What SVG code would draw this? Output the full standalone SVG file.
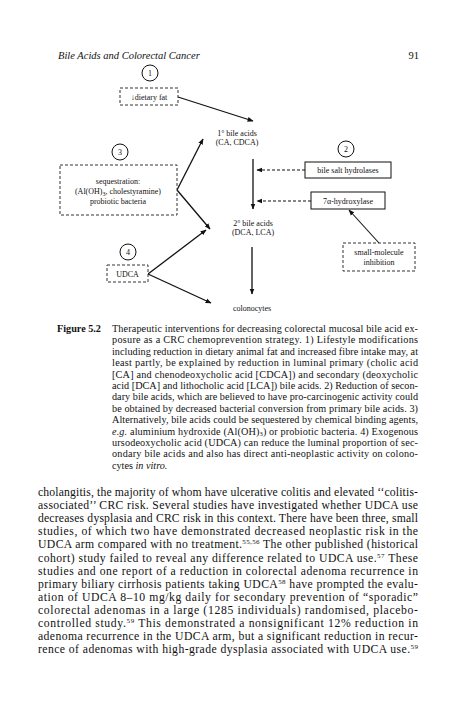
<svg xmlns="http://www.w3.org/2000/svg" width="474" height="710" viewBox="0 0 474 710">
<style>
text{font-family:"Liberation Serif","Times New Roman",serif;fill:#111}
.d{font-size:8px;text-anchor:middle}
.n{font-size:8px;text-anchor:middle}
.c{font-size:10.2px}
.b{font-size:11.7px}
.sup{font-size:7px;baseline-shift:4px}
.sub{font-size:6.5px;baseline-shift:-1px}
.box{fill:#fff;stroke:#111;stroke-width:1}
.dash{fill:#fff;stroke:#333;stroke-width:1;stroke-dasharray:3,2}
.circ{fill:#fff;stroke:#111;stroke-width:1}
.ln{stroke:#111;stroke-width:1.3;fill:none}
.dl{stroke:#111;stroke-width:1.1;fill:none;stroke-dasharray:3,2}
</style>
<defs>
<marker id="ah" viewBox="0 0 10 10" refX="9" refY="5" markerWidth="6" markerHeight="6" orient="auto" markerUnits="userSpaceOnUse">
<path d="M0,1 L10,5 L0,9 z" fill="#111"/>
</marker>
</defs>
<rect width="474" height="710" fill="#fff"/>
<text x="58" y="59" style="font-size:10.5px;font-style:italic">Bile Acids and Colorectal Cancer</text>
<text x="419" y="59" style="font-size:10.5px;text-anchor:end">91</text>

<g id="connectors">
<line class="ln" x1="178" y1="97" x2="253" y2="121" marker-end="url(#ah)"/>
<line class="ln" x1="253" y1="159" x2="253" y2="209" marker-end="url(#ah)"/>
<line class="ln" x1="252" y1="247" x2="252" y2="294" marker-end="url(#ah)"/>
<line class="ln" x1="177" y1="190" x2="203" y2="139" marker-end="url(#ah)"/>
<line class="ln" x1="177" y1="190" x2="210" y2="229" marker-end="url(#ah)"/>
<line class="ln" x1="148" y1="274" x2="206" y2="230" marker-end="url(#ah)"/>
<line class="ln" x1="148" y1="274" x2="211" y2="303" marker-end="url(#ah)"/>
<line class="dl" x1="305" y1="170" x2="257" y2="170" marker-end="url(#ah)"/>
<line class="dl" x1="311" y1="201" x2="257" y2="201" marker-end="url(#ah)"/>
<line class="ln" x1="379" y1="243" x2="349" y2="210" marker-end="url(#ah)" style="stroke-width:1.1"/>
</g>

<g id="n1">
<circle class="circ" cx="150" cy="73" r="8"/>
<text class="n" x="150" y="76">1</text>
</g>
<g id="dietary">
<rect class="dash" x="120" y="88" width="58" height="17"/>
<text class="d" x="149" y="99.5">↓dietary fat</text>
</g>
<g id="primary">
<text class="d" x="237" y="136">1° bile acids</text>
<text class="d" x="237" y="145">(CA, CDCA)</text>
</g>
<g id="n3">
<circle class="circ" cx="120" cy="152" r="8"/>
<text class="n" x="120" y="155">3</text>
</g>
<g id="sequestration">
<rect class="dash" x="60" y="165" width="117" height="50"/>
<text class="d" x="118" y="184">sequestration:</text>
<text class="d" x="118" y="194">(Al(OH)<tspan style="font-size:6px;baseline-shift:-2px">3</tspan>, cholestyramine)</text>
<text class="d" x="118" y="204">probiotic bacteria</text>
</g>
<g id="n2">
<circle class="circ" cx="346" cy="149" r="8"/>
<text class="n" x="346" y="152">2</text>
</g>
<g id="bsh">
<rect class="box" x="305" y="162" width="86" height="16"/>
<text class="d" x="348" y="173">bile salt hydrolases</text>
</g>
<g id="hydroxylase">
<rect class="box" x="311" y="192" width="74" height="17"/>
<text class="d" x="348" y="203.5">7α-hydroxylase</text>
</g>
<g id="secondary">
<text class="d" x="253" y="226">2° bile acids</text>
<text class="d" x="253" y="235">(DCA, LCA)</text>
</g>
<g id="inhibition">
<rect class="dash" x="343" y="243" width="72" height="28"/>
<text class="d" x="379" y="255">small-molecule</text>
<text class="d" x="379" y="265">inhibition</text>
</g>
<g id="n4">
<circle class="circ" cx="128" cy="252" r="8"/>
<text class="n" x="128" y="255">4</text>
</g>
<g id="udca">
<rect class="dash" x="107" y="265" width="41" height="17"/>
<text class="d" x="127.5" y="276.5">UDCA</text>
</g>
<g id="colonocytes">
<text class="d" x="252" y="311">colonocytes</text>
</g>

<g id="caption">
<text x="57" y="332" style="font-size:10.2px;font-weight:bold">Figure 5.2</text>
<text class="c" x="112" y="332" textLength="306" lengthAdjust="spacing">Therapeutic interventions for decreasing colorectal mucosal bile acid ex-</text>
<text class="c" x="112" y="343.4" textLength="306" lengthAdjust="spacing">posure as a CRC chemoprevention strategy. 1) Lifestyle modifications</text>
<text class="c" x="112" y="354.8" textLength="306" lengthAdjust="spacing">including reduction in dietary animal fat and increased fibre intake may, at</text>
<text class="c" x="112" y="366.2" textLength="306" lengthAdjust="spacing">least partly, be explained by reduction in luminal primary (cholic acid</text>
<text class="c" x="112" y="377.6" textLength="306" lengthAdjust="spacing">[CA] and chenodeoxycholic acid [CDCA]) and secondary (deoxycholic</text>
<text class="c" x="112" y="389" textLength="306" lengthAdjust="spacing">acid [DCA] and lithocholic acid [LCA]) bile acids. 2) Reduction of secon-</text>
<text class="c" x="112" y="400.4" textLength="306" lengthAdjust="spacing">dary bile acids, which are believed to have pro-carcinogenic activity could</text>
<text class="c" x="112" y="411.8" textLength="306" lengthAdjust="spacing">be obtained by decreased bacterial conversion from primary bile acids. 3)</text>
<text class="c" x="112" y="423.2" textLength="306" lengthAdjust="spacing">Alternatively, bile acids could be sequestered by chemical binding agents,</text>
<text class="c" x="112" y="434.6" textLength="306" lengthAdjust="spacing"><tspan font-style="italic">e.g.</tspan> aluminium hydroxide (Al(OH)<tspan class="sub">3</tspan>) or probiotic bacteria. 4) Exogenous</text>
<text class="c" x="112" y="446" textLength="306" lengthAdjust="spacing">ursodeoxycholic acid (UDCA) can reduce the luminal proportion of sec-</text>
<text class="c" x="112" y="457.4" textLength="306" lengthAdjust="spacing">ondary bile acids and also has direct anti-neoplastic activity on colono-</text>
<text class="c" x="112" y="468.8">cytes <tspan font-style="italic">in vitro.</tspan></text>
</g>

<g id="body">
<text class="b" x="38" y="496" textLength="380" lengthAdjust="spacing">cholangitis, the majority of whom have ulcerative colitis and elevated ‘‘colitis-</text>
<text class="b" x="38" y="509.1" textLength="380" lengthAdjust="spacing">associated’’ CRC risk. Several studies have investigated whether UDCA use</text>
<text class="b" x="38" y="522.2" textLength="380" lengthAdjust="spacing">decreases dysplasia and CRC risk in this context. There have been three, small</text>
<text class="b" x="38" y="535.3" textLength="380" lengthAdjust="spacing">studies, of which two have demonstrated decreased neoplastic risk in the</text>
<text class="b" x="38" y="548.4" textLength="380" lengthAdjust="spacing">UDCA arm compared with no treatment.<tspan class="sup">55,56</tspan> The other published (historical</text>
<text class="b" x="38" y="561.5" textLength="380" lengthAdjust="spacing">cohort) study failed to reveal any difference related to UDCA use.<tspan class="sup">57</tspan> These</text>
<text class="b" x="38" y="574.6" textLength="380" lengthAdjust="spacing">studies and one report of a reduction in colorectal adenoma recurrence in</text>
<text class="b" x="38" y="587.7" textLength="380" lengthAdjust="spacing">primary biliary cirrhosis patients taking UDCA<tspan class="sup">58</tspan> have prompted the evalu-</text>
<text class="b" x="38" y="600.8" textLength="380" lengthAdjust="spacing">ation of UDCA 8–10 mg/kg daily for secondary prevention of “sporadic”</text>
<text class="b" x="38" y="613.9" textLength="380" lengthAdjust="spacing">colorectal adenomas in a large (1285 individuals) randomised, placebo-</text>
<text class="b" x="38" y="627" textLength="380" lengthAdjust="spacing">controlled study.<tspan class="sup">59</tspan> This demonstrated a nonsignificant 12% reduction in</text>
<text class="b" x="38" y="640.1" textLength="380" lengthAdjust="spacing">adenoma recurrence in the UDCA arm, but a significant reduction in recur-</text>
<text class="b" x="38" y="653.2" textLength="380" lengthAdjust="spacing">rence of adenomas with high-grade dysplasia associated with UDCA use.<tspan class="sup">59</tspan></text>
</g>
</svg>
